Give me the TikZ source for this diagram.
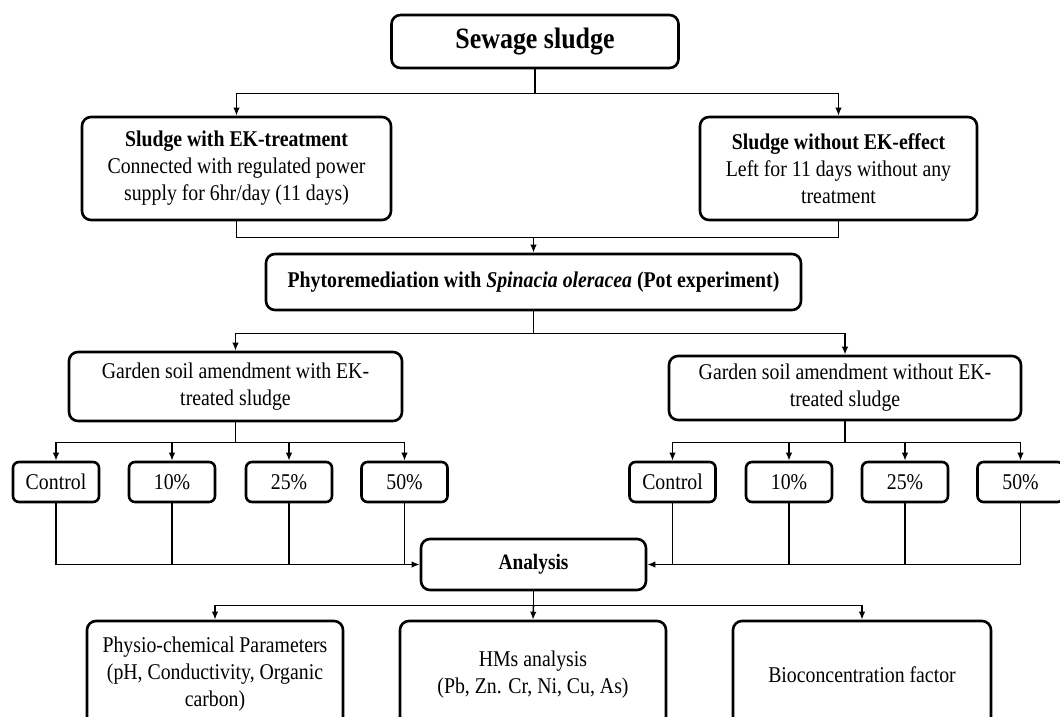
\documentclass[tikz,border=0pt]{standalone}
\usepackage{fontspec}
\setmainfont[FakeStretch=0.88]{Liberation Serif}
\usetikzlibrary{arrows.meta}
\begin{document}
\begin{tikzpicture}[x=1pt,y=-1pt,
  box/.style={draw, line width=2.6pt, rounded corners=9pt, align=center, inner sep=0pt,
    font=\fontsize{22.5}{27}\selectfont},
  sbox/.style={box, rounded corners=6pt, minimum width=86pt, minimum height=40pt},
  conn/.style={line width=1.6pt},
  arr/.style={conn, -{Latex[length=8pt,width=6.5pt]}}]
\path[use as bounding box] (0,0) rectangle (1060,716);
\clip (0,0) rectangle (1060,716);
% nodes
\node[box, minimum width=287pt, minimum height=53pt, font=\bfseries\fontsize{29.5}{33}\selectfont] (sew) at (535,41.5) {Sewage sludge};
\node[box, minimum width=309pt, minimum height=103pt] (ek) at (236.5,168.5)
  {\textbf{Sludge with EK-treatment}\\Connected with regulated power\\supply for 6hr/day (11 days)};
\node[box, minimum width=277pt, minimum height=103pt] (noek) at (838.5,168.5)
  {\textbf{Sludge without EK-effect}\\Left for 11 days without any\\treatment};
\node[box, minimum width=535pt, minimum height=56pt] (phy) at (533.5,282)
  {\textbf{Phytoremediation with \textit{Spinacia oleracea} (Pot experiment)}};
\node[box, minimum width=333pt, minimum height=69pt] (gl) at (235.5,386.5)
  {Garden soil amendment with EK-\\treated sludge};
\node[box, minimum width=352pt, minimum height=64pt] (gr) at (845,388)
  {Garden soil amendment without EK-\\treated sludge};
\node[sbox] (l1) at (56,482) {Control};
\node[sbox] (l2) at (172,482) {10\%};
\node[sbox] (l3) at (289,482) {25\%};
\node[sbox] (l4) at (404.5,482) {50\%};
\node[sbox] (r1) at (672.5,482) {Control};
\node[sbox] (r2) at (789,482) {10\%};
\node[sbox] (r3) at (905,482) {25\%};
\node[sbox] (r4) at (1020.5,482) {50\%};
\node[box, minimum width=225pt, minimum height=51pt, font=\bfseries\fontsize{22}{27}\selectfont] (an) at (533.5,564.5) {Analysis};
\node[box, minimum width=256pt, minimum height=107pt] (b1) at (215,674.5)
  {Physio-chemical Parameters\\(pH, Conductivity, Organic\\carbon)};
\node[box, minimum width=266pt, minimum height=107pt] (b2) at (533,674.5)
  {HMs analysis\\(Pb, Zn. Cr, Ni, Cu, As)};
\node[box, minimum width=258pt, minimum height=107pt] (b3) at (862,674.5)
  {Bioconcentration factor};
% connectors
\path (sew.south) ++(0,24) coordinate (j1);
\draw[conn] (sew.south) -- (j1);
\draw[arr] (j1) -| (ek.north);
\draw[arr] (j1) -| (noek.north);
\path (ek.south) ++(0,16) coordinate (m1);
\draw[conn] (ek.south) |- (noek.south |- m1) -- (noek.south);
\draw[arr] (phy.north |- m1) -- (phy.north);
\path (phy.south) ++(0,22) coordinate (j2);
\draw[conn] (phy.south) -- (j2);
\draw[arr] (j2) -| (gl.north);
\draw[arr] (j2) -| (gr.north);
\path (gl.south) ++(0,20) coordinate (j3);
\draw[conn] (gl.south) -- (j3);
\foreach \n in {l1,l2,l3,l4} \draw[arr] (j3) -| (\n.north);
\path (gr.south) ++(0,21) coordinate (j5);
\draw[conn] (gr.south) -- (j5);
\foreach \n in {r1,r2,r3,r4} \draw[arr] (j5) -| (\n.north);
\draw[arr] (l1.south) |- (an.west);
\foreach \n in {l2,l3,l4} \draw[conn] (\n.south) -- (\n.south |- an.west);
\draw[arr] (r4.south) |- (an.east);
\foreach \n in {r1,r2,r3} \draw[conn] (\n.south) -- (\n.south |- an.east);
\path (an.south) ++(0,14) coordinate (j4);
\draw[conn] (an.south) -- (j4);
\draw[arr] (j4) -| (b1.north);
\draw[arr] (j4) -- (b2.north);
\draw[arr] (j4) -| (b3.north);
\end{tikzpicture}
\end{document}
